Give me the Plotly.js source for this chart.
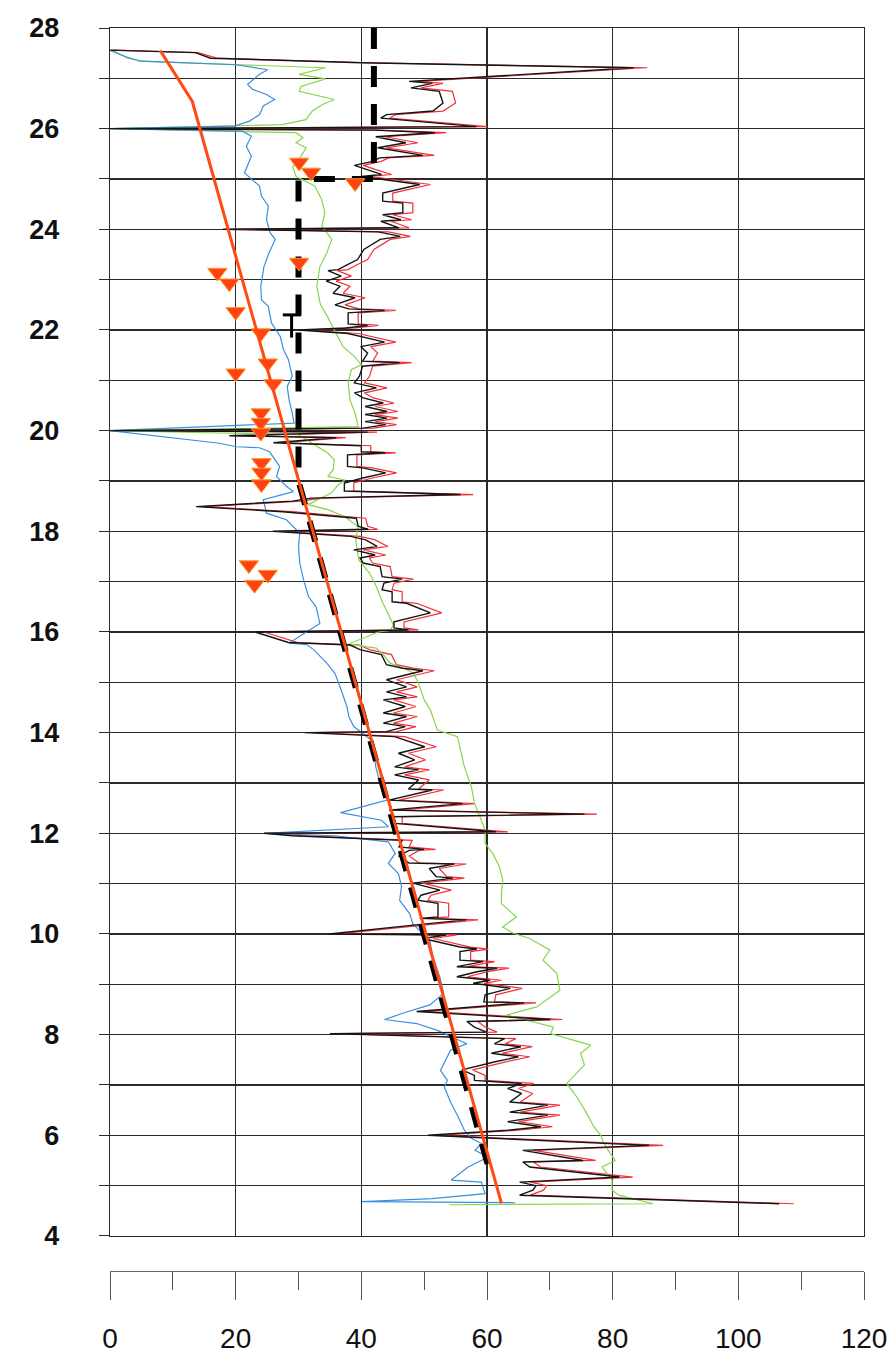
<!DOCTYPE html>
<html><head><meta charset="utf-8">
<script src="https://cdn.plot.ly/plotly-3.0.1.min.js"></script>
<style>body{margin:0;background:#fff}#chart{width:889px;height:1363px}</style>
</head><body><div id="chart"></div>
<script>
// depth (m) shared by black and red profiles
const depth = [27.56,27.51,27.40,27.31,27.21,26.94,26.90,26.81,26.74,26.51,
26.35,26.28,26.21,26.04,26.00,25.97,25.92,25.84,25.72,25.62,
25.47,25.42,25.35,25.27,25.19,25.09,25.05,25.00,24.98,24.89,
24.72,24.56,24.52,24.33,24.29,24.19,24.16,24.03,24.00,23.95,
23.86,23.80,23.60,23.40,23.30,23.20,23.18,23.07,22.97,22.87,
22.73,22.64,22.50,22.42,22.39,22.34,22.12,22.09,22.04,22.00,
21.93,21.76,21.67,21.54,21.38,21.35,21.28,21.08,20.95,20.85,
20.75,20.65,20.55,20.48,20.38,20.32,20.25,20.18,20.12,20.05,
20.00,19.97,19.90,19.86,19.76,19.70,19.58,19.56,19.52,19.29,
19.26,19.16,19.06,18.96,18.80,18.73,18.66,18.60,18.49,18.39,
18.26,18.10,18.04,18.00,17.90,17.83,17.70,17.63,17.53,17.47,
17.37,17.30,17.10,17.05,16.97,16.84,16.80,16.60,16.57,16.38,
16.20,16.08,16.04,16.00,15.79,15.74,15.65,15.58,15.55,15.35,
15.28,15.23,15.05,14.91,14.81,14.71,14.65,14.52,14.39,14.32,
14.19,14.12,14.02,14.00,13.92,13.72,13.59,13.46,13.32,13.26,
13.16,13.06,12.88,12.86,12.66,12.59,12.46,12.38,12.33,12.20,
12.03,12.00,11.95,11.86,11.73,11.68,11.66,11.55,11.41,11.39,
11.30,11.14,11.11,11.01,10.87,10.77,10.67,10.61,10.34,10.31,
10.28,10.18,10.00,9.98,9.91,9.74,9.70,9.65,9.48,9.45,
9.35,9.32,9.25,9.15,9.08,9.02,8.92,8.79,8.65,8.63,
8.46,8.30,8.26,8.15,8.05,8.02,7.92,7.82,7.76,7.63,
7.56,7.46,7.30,7.19,7.09,7.03,6.93,6.83,6.66,6.60,
6.46,6.40,6.33,6.27,6.17,6.10,6.00,5.80,5.70,5.50,
5.47,5.37,5.17,5.07,5.00,4.91,4.81,4.64];

const blackQ = [0,13.6,16,40,83.3,47.6,51.3,47.9,52.4,53.0,
51.4,44.0,43.1,58.3,0,42,51.7,42.3,47.1,42.6,
49.8,42.9,41.8,38.9,40.8,43.2,40.0,42.9,44.5,49.3,
43.4,43.4,46.6,46.6,43.4,46.3,43.1,46.0,18,42.7,
46.2,43.0,40.4,39.4,37.8,36.3,34.7,36.8,34.4,36.6,
35.5,39.0,35.8,38.0,43.7,37.9,37.9,41.0,37.5,30,
37.9,43.7,39.9,41.0,40.2,46.1,40.2,39.7,38.9,42.4,
38.9,40.3,43.5,40.6,44.1,40.6,44.1,40.6,43.9,40.3,
0,41.0,19,36,26,40.0,40.0,43.8,37.8,37.8,
40.2,43.9,40.2,37.3,37.3,55.8,32.1,29.0,13.7,27.5,
39.2,39.5,41.1,25.9,38.3,40.7,42.5,38.8,42.2,39.8,
40.3,43.0,43.3,46.5,43.6,43.3,44.9,44.9,47.2,51.0,
45.2,45.2,47.5,23.1,28.4,38.2,39.8,42.4,43.2,44.0,
46.6,49.8,44.0,47.2,44.0,47.2,43.5,47.0,43.5,47.2,
43.5,47.0,44.0,31,45.3,50.1,45.9,48.5,45.3,49.1,
45.3,49.1,47.5,51.3,44.4,56.1,44.4,75.5,44.9,44.9,
61.4,24.5,29,46.5,46.0,50.0,47.6,46.0,47.6,54.8,
50.8,51.9,54.6,48.2,52.5,49.5,49.0,52.2,52.2,49.3,
56.7,48.7,34.9,53.5,49.8,55.7,58.4,55.7,55.7,59.4,
55.2,61.6,58.4,55.2,60.5,57.8,63.7,59.7,59.5,65.9,
48.8,70.1,56.8,58.0,59.9,35.0,62.8,61.2,65.4,60.7,
65.0,61.3,56.0,58.0,58.0,65.5,63.3,65.5,63.6,69.7,
63.6,69.7,66.0,63.3,68.6,63.3,50.6,85.8,65.7,75.3,
65.7,66.8,81.1,65.2,67.8,67.3,65.2,106.5];

const redQ = [0.5,14,17,41,85.5,49,53,49.5,54.5,55,
53,45.5,44.5,60,0.5,43,53.5,43.8,49,44,
51.6,44.3,43.2,40.3,42.2,44.8,41.5,44.5,46,51,
45,45,48.2,48.2,45,48,44.7,47.6,19,44.3,
47.8,44.6,42,41,39.4,37.9,36.2,38.4,36,38.2,
37.1,40.6,37.4,39.6,45.5,39.5,39.5,42.7,39.1,31,
39.5,45.5,41.5,42.6,41.8,48,41.8,41.3,40.5,44.1,
40.5,41.9,45.2,42.2,45.8,42.2,45.8,42.2,45.6,41.9,
0.5,42.5,20.5,37.5,27.5,41.5,41.5,45.5,39.3,39.3,
41.7,45.6,41.7,38.8,38.8,57.8,33.6,30.5,15,29,
40.7,41,42.6,27.3,39.8,42.2,44.2,40.3,43.9,41.3,
41.8,44.6,44.9,48.3,45.2,44.9,46.5,46.5,48.8,52.8,
46.8,46.8,49.1,24.5,29.9,39.7,41.3,43.9,44.8,45.6,
48.2,51.6,45.6,48.9,45.6,48.9,45.1,48.7,45.1,48.9,
45.1,48.7,45.6,32.4,46.9,51.9,47.5,50.2,46.9,50.8,
46.9,50.8,49.1,53.1,46,58,46,77.5,46.5,46.5,
63.3,25.9,30.5,48.1,47.6,51.8,49.2,47.6,49.2,56.7,
52.4,53.6,56.4,49.8,54.3,51.1,50.6,53.9,53.9,50.9,
58.6,50.3,36.3,55.2,51.4,57.4,60.2,57.4,57.4,61.2,
56.9,63.5,60.1,56.9,62.3,59.5,65.6,61.4,61.2,67.8,
50.4,72,58.5,59.7,61.6,36.4,64.6,62.9,67.2,62.4,
66.8,63,57.7,59.7,59.7,67.4,65,67.3,65.3,71.6,
65.3,71.6,67.7,65,70.4,65,52.1,88,67.4,77.3,
67.4,68.5,83.2,66.9,69.5,69,66.9,108.8];

const greenDepth = [27.55,27.34,27.21,27.08,26.99,26.84,26.74,26.61,26.58,26.48,
26.35,26.18,26.08,26.00,25.92,25.82,25.72,25.62,25.45,25.25,
25.05,24.86,24.59,24.33,24.06,23.80,23.53,23.26,22.87,22.50,
22.27,22.07,21.87,21.67,21.47,21.31,21.21,20.95,20.61,20.35,
20.08,20.00,19.92,19.55,19.42,19.22,19.09,19.02,18.92,18.76,
18.53,18.43,18.29,18.09,17.83,17.43,17.17,16.90,16.64,16.14,
16.03,16.00,15.76,15.68,15.55,15.38,15.25,15.18,14.98,14.65,
14.45,14.25,14.05,13.92,13.65,13.32,12.93,12.60,12.26,12.06,
11.80,11.60,11.33,11.07,10.81,10.60,10.34,10.14,10.02,9.91,
9.68,9.48,9.22,8.88,8.55,8.39,8.15,8.02,7.79,7.63,
7.40,7.03,6.76,6.43,6.17,6.00,5.87,5.70,5.50,5.37,
5.11,4.91,4.81,4.64,4.62];
const greenQ = [0,4.6,34.3,30.1,34.3,30.4,30.1,34.9,35.7,33.8,
32.2,31.2,27.4,0,29.6,30.7,29.6,31.2,30.4,29.1,
29.6,32.6,33.7,34.2,33.7,35.3,34.5,33.4,32.9,33.5,
34.6,35.4,36.3,37.1,38.9,40.0,38.4,37.9,38.2,39.0,
39.5,0,30,34.7,35.7,35.5,34.7,37.4,36.3,35.2,
31.5,34.7,37.4,39.5,39.1,39.6,41.3,42.4,43.2,45.1,
44.6,42.7,38,42.4,43.5,44.6,47.3,48.3,49.1,50.0,
51.0,51.6,52.1,55.3,55.8,56.4,57.5,58.0,59.1,59.7,
59.7,60.9,62.0,62.5,62.3,62.3,64.7,62.5,64.1,66.8,
70.0,68.9,71.1,71.6,67.9,63.1,70.6,70.1,76.5,74.9,
75.5,72.7,74.3,75.9,77.0,78.1,78.5,79.3,80.4,78.3,
79.9,79.9,81.0,86.4,54];

const blueDepth = [27.56,27.41,27.34,27.27,27.17,27.08,26.88,26.78,26.68,26.58,
26.45,26.28,26.15,26.05,26.00,25.95,25.85,25.65,25.45,25.12,
24.86,24.66,24.46,24.19,23.93,23.80,23.53,23.26,22.87,22.60,
22.47,22.14,21.87,21.61,21.41,21.08,20.88,20.61,20.35,20.15,
20.00,19.75,19.68,19.66,19.58,19.48,19.29,19.09,18.89,18.79,
18.63,18.36,18.29,18.23,17.96,17.70,17.37,17.04,16.70,16.50,
16.17,15.78,15.75,15.65,15.38,15.18,14.91,14.52,14.32,14.12,
13.86,13.59,13.32,12.93,12.66,12.41,12.26,12.13,12.00,11.95,
11.83,11.60,11.40,11.20,10.94,10.67,10.40,10.20,9.87,9.54,
9.14,8.82,8.59,8.45,8.30,8.22,8.09,7.89,7.82,7.69,
7.29,7.09,6.96,6.63,6.37,6.10,5.94,5.84,5.70,5.57,
5.37,5.11,5.07,4.84,4.74,4.68,4.66];
const blueQ = [0.2,2.7,5.1,20.0,25.1,23.8,21.9,22.7,24.9,26.2,
24.4,23.8,22.2,19.8,0,21.1,22.5,21.7,22.5,21.4,
23.8,24.1,25.2,24.9,25.5,26.3,25.3,24.5,24.0,24.1,
25.2,25.7,27.1,27.6,28.4,29.0,28.2,28.5,29.0,29.3,
0,17.4,20.1,23.8,25.4,26.0,27.0,26.5,28.1,29.2,
24.4,24.9,26.5,28.1,30.2,30.0,30.2,30.8,31.6,32.8,
33.4,28.5,31.3,32.4,34.5,35.8,36.6,37.7,38.0,38.8,
41.5,42.0,42.3,43.1,44.1,36.7,43.2,44.3,24.6,35.8,
44.3,45.4,44.3,45.9,46.4,46.1,47.7,48.2,50.9,51.4,
52.5,53.1,50.9,47.2,43.7,48.8,52.0,55.7,56.8,54.2,
52.6,53.7,53.2,54.3,55.4,56.4,57.5,59.1,58.1,60.2,
57.0,54.3,59.1,59.7,51.3,40.1,64.5];

// trend line (orange)
const trendQ = [8, 13.1, 62.3];
const trendDepth = [27.55, 26.54, 4.65];
// interpreted design line (black dashed)
const designQ = [42, 42, 30, 30, 60.6];
const designDepth = [28, 25, 25, 19, 5.2];
// small T mark
const markQ = [27.5, 30.4, null, 28.9, 28.9];
const markDepth = [22.3, 22.3, null, 22.3, 21.85];
// test points (red triangles)
const triQ = [30.1,32.0,39.0,30.1,17.1,19.0,20.0,24.0,25.1,20.0,26.0,24.0,24.0,24.0,24.1,24.1,24.1,22.1,25.1,23.0];
const triDepth = [25.33,25.13,24.92,23.34,23.14,22.93,22.36,21.94,21.34,21.14,20.93,20.35,20.16,19.96,19.36,19.17,18.94,17.33,17.14,16.94];

// axis ticks
const yTickVals = [4,5,6,7,8,9,10,11,12,13,14,15,16,17,18,19,20,21,22,23,24,25,26,27,28];
const yTickText = ['4','','6','','8','','10','','12','','14','','16','','18','','20','','22','','24','','26','','28'];
const xTickVals = [0,20,40,60,80,100,120];
const xTickText = ['0','20','40','60','80','100','120'];
const xMinorVals = [10,30,50,70,90,110];

const traces = [
  {x: redQ, y: depth, mode:'lines', line:{color:'#f23038', width:1.2}, hoverinfo:'skip'},
  {x: greenQ, y: greenDepth, mode:'lines', line:{color:'#86d64a', width:1.2}, hoverinfo:'skip'},
  {x: blueQ, y: blueDepth, mode:'lines', line:{color:'#3b8fe0', width:1.2}, hoverinfo:'skip'},
  {x: blackQ, y: depth, mode:'lines', line:{color:'#141414', width:1.4}, hoverinfo:'skip'},
  {x: trendQ, y: trendDepth, mode:'lines', line:{color:'#ff4a12', width:3}, xaxis:'x2', yaxis:'y', hoverinfo:'skip'},
  {x: designQ, y: designDepth, mode:'lines', line:{color:'#000', width:6, dash:'21px,17px'}, hoverinfo:'skip'},
  {x: markQ, y: markDepth, mode:'lines', line:{color:'#000', width:3}, hoverinfo:'skip'},
  {x: triQ, y: triDepth, mode:'markers', marker:{symbol:'triangle-down', size:17, color:'#ff4216', line:{color:'#ff9a22', width:1}}, hoverinfo:'skip'}
];

const gridC = '#2a2a2a';
const layout = {
  width: 889, height: 1363,
  margin: {l:110, r:25, t:28, b:92},
  paper_bgcolor:'#fff', plot_bgcolor:'#fff',
  showlegend:false,
  font:{family:'Liberation Sans, Arial, sans-serif', color:'#111'},
  xaxis:{range:[0,120], tickmode:'array', tickvals:xTickVals, showgrid:true, gridcolor:gridC, gridwidth:1.2,
    showticklabels:false, ticks:'', zeroline:false, showline:true, mirror:true, linecolor:gridC, linewidth:1.2, anchor:'y'},
  xaxis2:{range:[0,120], overlaying:'x', anchor:'free', position:0, side:'bottom',
    tickmode:'array', tickvals:xTickVals, ticktext:xTickText, ticks:'outside', ticklen:28, tickcolor:'#555', tickwidth:1,
    showline:true, linecolor:'#666', linewidth:1.2, showgrid:false, zeroline:false,
    tickfont:{size:28, color:'#111'}, ticklabelstandoff:14,
    minor:{tickmode:'array', tickvals:xMinorVals, ticks:'outside', ticklen:18, tickcolor:'#555', tickwidth:1, showgrid:false}},
  yaxis:{range:[4,28], domain:[0.0282,1], tickmode:'array', tickvals:yTickVals, ticktext:yTickText,
    showgrid:true, gridcolor:gridC, gridwidth:1.2, ticks:'outside', ticklen:10, tickcolor:gridC,
    zeroline:false, showline:true, mirror:true, linecolor:gridC, linewidth:1.2,
    tickfont:{size:27, weight:700, color:'#111'}, ticklabelstandoff:34}
};

Plotly.newPlot('chart', traces, layout, {staticPlot:true, displayModeBar:false});
</script>
</body></html>
